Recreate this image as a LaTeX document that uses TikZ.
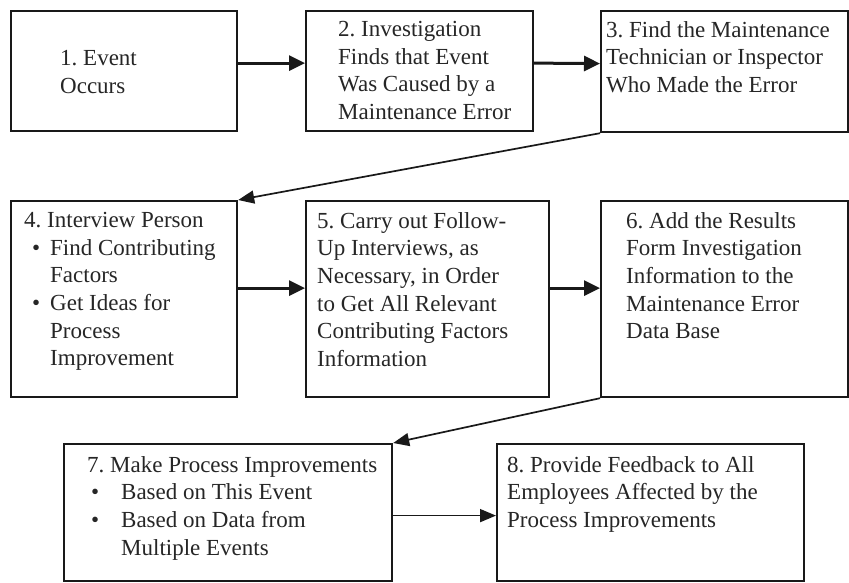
\documentclass[tikz,border=0pt]{standalone}
\usepackage{fontspec}
\setmainfont{Liberation Serif}
\usetikzlibrary{arrows.meta}
\begin{document}
\frenchspacing
\begin{tikzpicture}[x=1pt,y=-1pt,
  box/.style={draw=black!90, line width=2.2pt, inner sep=0pt, anchor=north west},
  txt/.style={anchor=north west, inner sep=0pt, align=left, font=\fontsize{23}{27.7}\selectfont, text=black!85},
  thickarrow/.style={draw=black!90, line width=3pt, -{Triangle[length=16pt,width=15pt]}},
  thinarrow/.style={draw=black!90, line width=1.7pt, -{Triangle[length=16pt,width=13pt]}}]
\useasboundingbox (0,0) rectangle (849,582);
\fill[white] (0,0) rectangle (849,582);
% boxes
\node[box, minimum width=226pt, minimum height=120pt] (b1) at (10,10) {};
\node[box, minimum width=227pt, minimum height=120pt] (b2) at (305,10) {};
\node[box, minimum width=247pt, minimum height=121pt] (b3) at (600,10) {};
\node[box, minimum width=226pt, minimum height=196pt] (b4) at (10,200) {};
\node[box, minimum width=243pt, minimum height=196pt] (b5) at (305,200) {};
\node[box, minimum width=247pt, minimum height=196pt] (b6) at (600,200) {};
\node[box, minimum width=328pt, minimum height=137pt] (b7) at (63,443) {};
\node[box, minimum width=307pt, minimum height=137pt] (b8) at (496,443) {};
% texts
\node[txt] (t1) at (60,50) {1. Event\\Occurs};
\node[txt] (t2) at (338,21) {2. Investigation\\Finds that Event\\Was Caused by a\\Maintenance Error};
\node[txt] (t3) at (606,21) {3. Find the Maintenance\\Technician or Inspector\\Who Made the Error};
\node[txt] (t4) at (24,212) {4. Interview Person\\
  \hspace*{8pt}\makebox[18pt][l]{•}Find Contributing\\
  \hspace*{26pt}Factors\\
  \hspace*{8pt}\makebox[18pt][l]{•}Get Ideas for\\
  \hspace*{26pt}Process\\
  \hspace*{26pt}Improvement};
\node[txt] (t5) at (317,212) {5. Carry out Follow-\\Up Interviews, as\\Necessary, in Order\\to Get All Relevant\\Contributing Factors\\Information};
\node[txt] (t6) at (626,212) {6. Add the Results\\Form Investigation\\Information to the\\Maintenance Error\\Data Base};
\node[txt] (t7) at (87,456) {7. Make Process Improvements\\
  \hspace*{4pt}\makebox[30pt][l]{•}Based on This Event\\
  \hspace*{4pt}\makebox[30pt][l]{•}Based on Data from\\
  \hspace*{34pt}Multiple Events};
\node[txt] (t8) at (507,456) {8. Provide Feedback to All\\Employees Affected by the\\Process Improvements};
% connectors
\draw[thickarrow] ([yshift=8pt]b1.east) -- ([yshift=8pt]b2.west);
\draw[thickarrow] ([yshift=8pt]b2.east) -- ([yshift=8pt]b3.west);
\draw[thinarrow] (b3.south west) -- (b4.north east);
\draw[thickarrow] ([yshift=11pt]b4.east) -- ([yshift=11pt]b5.west);
\draw[thickarrow] ([yshift=11pt]b5.east) -- ([yshift=11pt]b6.west);
\draw[thinarrow] (b6.south west) -- (b7.north east);
\draw[thinarrow] ([yshift=-3pt]b7.east) -- ([yshift=-3pt]b8.west);
\end{tikzpicture}
\end{document}
